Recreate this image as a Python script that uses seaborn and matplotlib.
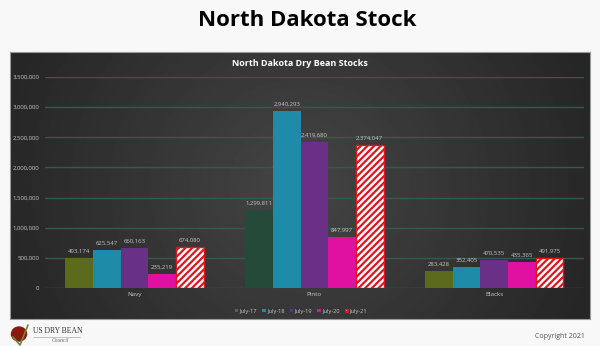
import numpy as np
import pandas as pd
import matplotlib
matplotlib.use("Agg")
import matplotlib.pyplot as plt
import seaborn as sns
from matplotlib.patches import Rectangle, Ellipse

categories = ["Navy", "Pinto", "Blacks"]
years = ["July-17", "July-18", "July-19", "July-20", "July-21"]
july17 = [493174, 1299811, 283428]
july18 = [625547, 2940293, 352405]
july19 = [660163, 2419680, 470535]
july20 = [235219, 847997, 435365]
july21 = [674080, 2374047, 491975]
yticks = [0, 500000, 1000000, 1500000, 2000000, 2500000, 3000000, 3500000]

colors = ["#5b6a1c", "#1e8ba8", "#6a2f86", "#e010a0", "#ffffff"]
pinto17_color = "#264a3a"

rows = []
for yr, vals in zip(years, [july17, july18, july19, july20, july21]):
    for c, v in zip(categories, vals):
        rows.append({"cat": c, "year": yr, "value": v})
df = pd.DataFrame(rows)

sns.set_theme(style="dark")
plt.rcParams["font.family"] = ["Open Sans", "DejaVu Sans"]
plt.rcParams["hatch.linewidth"] = 1.6
plt.rcParams["hatch.color"] = "#e0141e"

fig = plt.figure(figsize=(6.0, 3.46), dpi=100)
fig.patch.set_facecolor("#f8f8f8")

# dark panel with gradient
bg = fig.add_axes([10/600, 1-319/346, 580/600, (319-52)/346])
xx = np.linspace(-1, 1, 400)
yy = np.linspace(-1, 1, 200)
X, Y = np.meshgrid(xx, yy)
R = np.sqrt((X*0.95)**2 + (Y*0.45)**2)
img = 0.27 - 0.12*np.clip(R, 0, 1)
bg.imshow(img, cmap="gray", vmin=0, vmax=1, aspect="auto", extent=[0, 1, 0, 1])
bg.set_xlim(0, 1); bg.set_ylim(0, 1)
for s in bg.spines.values():
    s.set_visible(True)
    s.set_color("#9a9a9a")
    s.set_linewidth(0.8)
bg.set_xticks([]); bg.set_yticks([])

ax = fig.add_axes([44.75/600, 1-288/346, (584-44.75)/600, (288-77)/346])
ax.patch.set_alpha(0)
sns.barplot(data=df, x="cat", y="value", hue="year", palette=colors,
            width=0.77, gap=0, saturation=1, ax=ax, legend=False, errorbar=None)

for i, cont in enumerate(ax.containers):
    for bar in cont:
        bar.set_linewidth(0)
    if i == 4:
        for bar in cont:
            bar.set_hatch("/////")
            bar.set_edgecolor("#e0141e")
            bar.set_linewidth(1.0)
    ax.bar_label(cont, labels=[f"{v:,.0f}" for v in cont.datavalues],
                 padding=3, fontsize=4.3, color="#c8c8c8")
ax.containers[0][1].set_facecolor(pinto17_color)

ax.set_ylim(0, 3500000)
ax.set_xlim(-0.5, 2.5)
ax.set_yticks(yticks)
ax.set_yticklabels([f"{v:,}" for v in yticks], fontsize=4.3, color="#c8c8c8")
ax.set_xticks(range(3))
ax.set_xticklabels(categories, fontsize=4.5, color="#c8c8c8")
ax.tick_params(axis="both", length=0, pad=4)
ax.tick_params(axis="x", pad=3)
ax.set_xlabel(""); ax.set_ylabel("")
ax.grid(axis="y", color="#37594b", linewidth=1.0)
ax.grid(axis="x", visible=False)
ax.set_axisbelow(True)
for s in ax.spines.values():
    s.set_visible(False)

# legend
handles = []
for i, (yr, col) in enumerate(zip(years, colors)):
    if i == 4:
        h = Rectangle((0, 0), 1, 1, facecolor="white", edgecolor="#e0141e", hatch="////", linewidth=0.6)
    else:
        h = Rectangle((0, 0), 1, 1, facecolor=col, edgecolor="none")
    handles.append(h)
leg = fig.legend(handles, years, loc="center", bbox_to_anchor=(301/600, 1-311/346),
                 ncol=5, frameon=False, fontsize=4.1, handlelength=0.6, handleheight=0.6,
                 handletextpad=0.25, columnspacing=0.9, labelcolor="#c8c8c8")

fig.text(300/600, 1-63/346, "North Dakota Dry Bean Stocks", ha="center", va="center",
         fontsize=6.5, fontweight="bold", color="white")
fig.text(307/600, 1-21/346, "North Dakota Stock", ha="center", va="center",
         fontsize=16, fontweight="bold", color="black")
fig.text(585/600, 1-337/346, "Copyright 2021", ha="right", va="center",
         fontsize=5, color="#555555")

# logo
lg = fig.add_axes([0, 0, 1, 1], facecolor="none")
lg.set_xlim(0, 600); lg.set_ylim(346, 0); lg.axis("off")
lg.add_patch(Ellipse((19, 334), 15, 14, color="#8a1a0c"))
lg.plot([13, 20, 28], [337, 345, 325], color="#6a8a3a", linewidth=1.2)
lg.text(33, 331, "US DRY BEAN", fontsize=5.5, color="#333333", family="Liberation Serif", va="center")
lg.plot([33, 80], [336.5, 336.5], color="#999999", linewidth=0.4)
lg.text(52, 341, "Council", fontsize=4, color="#666666", family="Liberation Serif", va="center", style="italic")

fig.savefig("out.png", dpi=100, facecolor=fig.get_facecolor())
